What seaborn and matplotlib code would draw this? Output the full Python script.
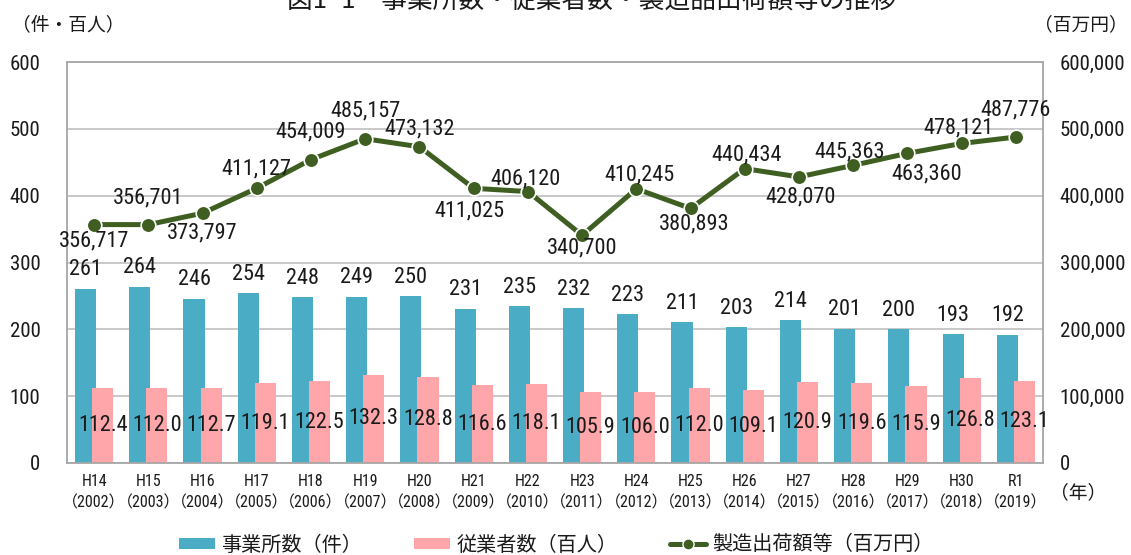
import numpy as np
import pandas as pd
import matplotlib
matplotlib.use("Agg")
import matplotlib.pyplot as plt
import seaborn as sns
from matplotlib import font_manager as fm
from matplotlib.patches import Patch
from matplotlib.lines import Line2D
from matplotlib.ticker import FuncFormatter

# ---------------- data ----------------
era_years = ['H14', 'H15', 'H16', 'H17', 'H18', 'H19', 'H20', 'H21', 'H22',
             'H23', 'H24', 'H25', 'H26', 'H27', 'H28', 'H29', 'H30', 'R1']
ad_years = ['2002', '2003', '2004', '2005', '2006', '2007', '2008', '2009', '2010',
            '2011', '2012', '2013', '2014', '2015', '2016', '2017', '2018', '2019']
offices = [261, 264, 246, 254, 248, 249, 250, 231, 235, 232, 223, 211, 203, 214, 201, 200, 193, 192]
workers = [112.4, 112.0, 112.7, 119.1, 122.5, 132.3, 128.8, 116.6, 118.1, 105.9,
           106.0, 112.0, 109.1, 120.9, 119.6, 115.9, 126.8, 123.1]
shipments = [356717, 356701, 373797, 411127, 454009, 485157, 473132, 411025, 406120,
             340700, 410245, 380893, 440434, 428070, 445363, 463360, 478121, 487776]

series_offices = '事業所数（件）'
series_workers = '従業者数（百人）'
series_ship = '製造出荷額等（百万円）'

# label placement for line values (pixels: dx, dy of baseline from point)
line_label_offsets = [(0, -22), (0, 21), (0, -25), (0, 14), (0, 22), (0, 22), (0, 12),
                      (-4, -28), (-2, 7), (0, -18), (3, 8), (4, -21), (2, 8), (2, -26),
                      (-4, 8), (19, -26), (-3, 10), (0, 22)]

# ---------------- style ----------------
sns.set_style('white')
available = {f.name for f in fm.fontManager.ttflist}
narrow = next((n for n in ['Liberation Sans Narrow', 'Roboto Condensed', 'Roboto']
               if n in available), 'DejaVu Sans')
CJK = 'Noto Sans CJK JP'
plt.rcParams['font.family'] = [narrow, CJK, 'DejaVu Sans']

BLUE = '#4BACC6'
PINK = '#FFA6AA'
GREEN = '#3F5F22'
TXT = '#1A1A1A'

cats = [f'{h}\n（{a}）' for h, a in zip(era_years, ad_years)]
df = pd.DataFrame({
    'year': cats * 2,
    'series': [series_offices] * len(cats) + [series_workers] * len(cats),
    'value': offices + workers,
})

fig = plt.figure(figsize=(11.31, 5.55), dpi=100)
ax = fig.add_axes([67 / 1131, 1 - 463 / 555, (1043 - 67) / 1131, (463 - 62) / 555])

sns.barplot(data=df, x='year', y='value', hue='series', palette=[BLUE, PINK],
            width=0.63, saturation=1, ax=ax, legend=False, errorbar=None)

for p in ax.patches:
    c = p.get_x() + p.get_width() / 2
    p.set_width(0.39)
    p.set_x(c - 0.195)
    p.set_edgecolor('none')

ax.bar_label(ax.containers[0], fmt='{:.0f}', padding=6, fontsize=16, color=TXT)
ax.bar_label(ax.containers[1], fmt='{:.1f}', label_type='center', fontsize=16, color=TXT)

ax.set_xlim(-0.5, len(cats) - 0.5)
ax.set_ylim(0, 600)
ax.set_yticks(range(0, 601, 100))
ax.set_xlabel('')
ax.set_ylabel('')
ax.yaxis.grid(True, color='#BFBFBF', lw=1.2)
ax.set_axisbelow(True)
ax.tick_params(axis='y', length=0, pad=19, labelsize=15, labelcolor=TXT)
ax.tick_params(axis='x', length=0, pad=8, labelsize=11.5, labelcolor=TXT)
for t in ax.get_xticklabels():
    t.set_linespacing(1.5)
for s in ax.spines.values():
    s.set_color('#A6A6A6')
    s.set_linewidth(1.3)
    s.set_visible(True)

ax2 = ax.twinx()
sns.lineplot(x=np.arange(len(shipments)), y=shipments, ax=ax2, color=GREEN, lw=3.6,
             marker='o', markersize=10.5, markeredgecolor='white', markeredgewidth=1.2,
             legend=False)
ax2.set_xlim(-0.5, len(cats) - 0.5)
ax2.set_ylim(0, 600000)
ax2.set_yticks(range(0, 600001, 100000))
ax2.yaxis.set_major_formatter(FuncFormatter(lambda v, p: f'{int(v):,}'))
ax2.tick_params(axis='y', length=0, pad=12, labelsize=15, labelcolor=TXT)
ax2.grid(False)
ax2.set_ylabel('')
for s in ax2.spines.values():
    s.set_visible(False)

for i, v in enumerate(shipments):
    dx, dy = line_label_offsets[i]
    ax2.annotate(f'{v:,}', (i, v), xytext=(dx, dy), textcoords='offset pixels',
                 ha='center', va='baseline', fontsize=16, color=TXT)

# ---------------- texts ----------------
fig.text(592 / 1131, 1 - 9 / 555, '図1−1　事業所数・従業者数・製造品出荷額等の推移',
         ha='center', va='baseline', fontsize=18.5, family=[CJK], color=TXT)
fig.text(12 / 1131, 1 - 25 / 555, '（件・百人）', ha='left', va='center',
         fontsize=13.5, family=[CJK], color=TXT)
fig.text(1128 / 1131, 1 - 25 / 555, '（百万円）', ha='right', va='center',
         fontsize=13.5, family=[CJK], color=TXT)
fig.text(1050 / 1131, 1 - 493 / 555, '（年）', ha='left', va='center',
         fontsize=13.5, family=[CJK], color=TXT)

handles = [Patch(facecolor=BLUE, edgecolor='none'),
           Patch(facecolor=PINK, edgecolor='none'),
           Line2D([0], [0], color=GREEN, lw=3.6, marker='o', markersize=8,
                  markeredgecolor='white', markeredgewidth=1)]
fig.legend(handles, [series_offices, series_workers, series_ship],
           loc='center', bbox_to_anchor=(556 / 1131, 1 - 545 / 555), ncol=3,
           frameon=False, prop={'family': [CJK], 'size': 14.5}, handlelength=1.8,
           handleheight=0.5, handletextpad=0.3, columnspacing=2.6, labelcolor=TXT)

fig.savefig('out.png', dpi=100)
